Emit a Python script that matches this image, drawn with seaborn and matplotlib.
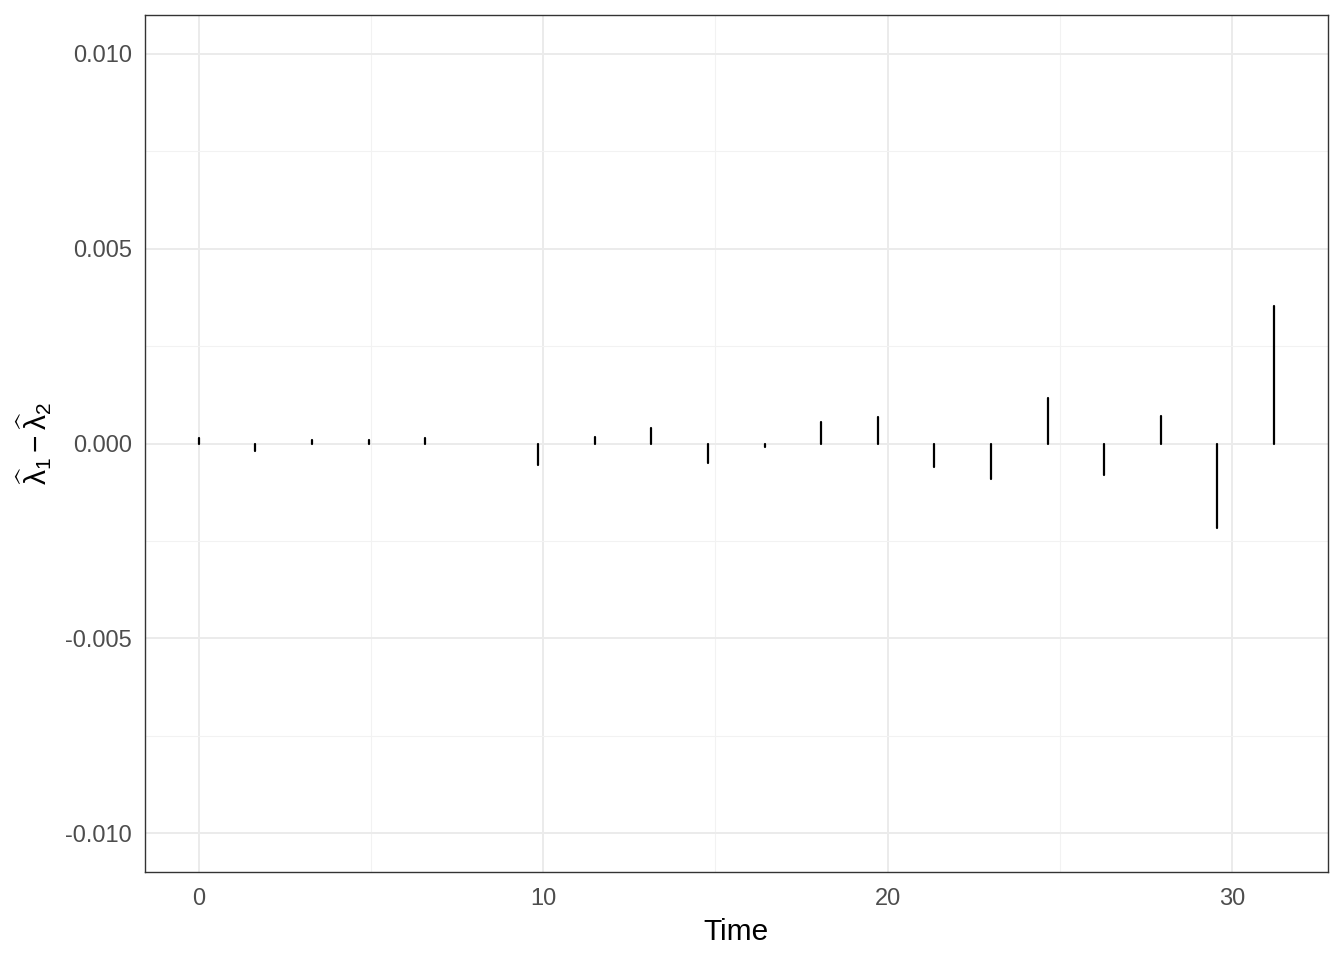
import numpy as np
import pandas as pd
import seaborn as sns
import matplotlib.pyplot as plt
from matplotlib.ticker import MultipleLocator

# event times and estimated differences
times = [0.0, 1.64, 3.28, 4.93, 6.57, 9.86, 11.50, 13.14, 14.78, 16.43,
         18.07, 19.71, 21.35, 23.00, 24.64, 26.28, 27.92, 29.57, 31.21]
diffs = [0.00013, -0.00020, 0.00010, 0.00008, 0.00013, -0.00055, 0.00016,
         0.00039, -0.00051, -0.00008, 0.00054, 0.00067, -0.00060, -0.00090,
         0.00116, -0.00082, 0.00071, -0.00217, 0.00354]

y_ticks = [-0.010, -0.005, 0.000, 0.005, 0.010]
x_ticks = [0, 10, 20, 30]

# long format: each spike is a two-point line from 0 to its value
rows = []
for i, (t, d) in enumerate(zip(times, diffs)):
    rows.append({"id": i, "Time": t, "val": 0.0})
    rows.append({"id": i, "Time": t, "val": d})
df = pd.DataFrame(rows)

sns.set_style("white")
plt.rcParams["font.family"] = ["Liberation Sans", "DejaVu Sans"]
plt.rcParams["mathtext.fontset"] = "custom"
plt.rcParams["mathtext.rm"] = "Liberation Sans"
plt.rcParams["mathtext.it"] = "Liberation Sans"

fig = plt.figure(figsize=(13.44, 9.6), dpi=100)
ax = fig.add_axes([145 / 1344, 1 - 872 / 960, (1328 - 145) / 1344, (872 - 15) / 960])

sns.lineplot(data=df, x="Time", y="val", units="id", estimator=None,
             color="black", linewidth=1.6, ax=ax, legend=False, zorder=3)

ax.set_xlim(-1.56, 32.78)
ax.set_ylim(-0.011, 0.011)
ax.set_xticks(x_ticks)
ax.set_yticks(y_ticks)
ax.set_yticklabels([f"{v:.3f}" for v in y_ticks])
ax.xaxis.set_minor_locator(MultipleLocator(5))
ax.yaxis.set_minor_locator(MultipleLocator(0.0025))

ax.grid(True, which="major", color="#EBEBEB", linewidth=1.4, zorder=0)
ax.grid(True, which="minor", color="#F2F2F2", linewidth=0.8, zorder=0)
ax.set_axisbelow(True)

ax.tick_params(axis="both", which="major", direction="out", length=5.5, width=1,
               color="#333333", labelcolor="#4D4D4D", labelsize=17, pad=4)
ax.tick_params(axis="x", which="major", pad=6)
ax.tick_params(axis="both", which="minor", length=0)

for s in ax.spines.values():
    s.set_color("#333333")
    s.set_linewidth(1.0)

ax.set_xlabel("Time", fontsize=21.5, color="black", labelpad=6)
ax.set_ylabel(r"$\widehat{\lambda}_1 - \widehat{\lambda}_2$", fontsize=21.5,
              color="black", labelpad=8)

fig.savefig("out.png", dpi=100, facecolor="white")
